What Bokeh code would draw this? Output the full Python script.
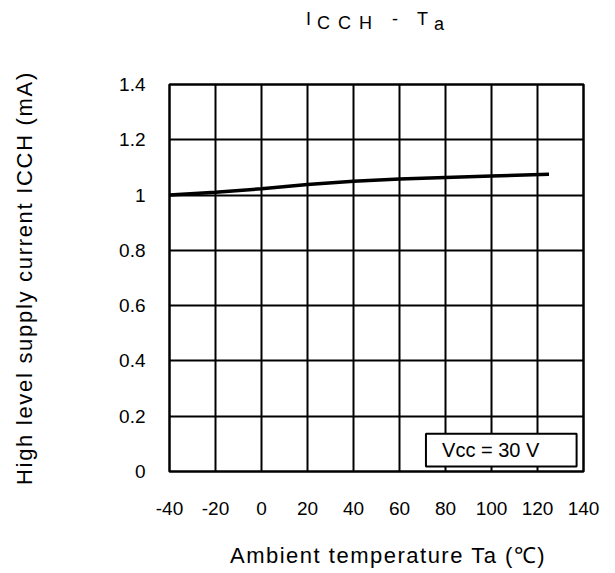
from bokeh.plotting import figure
from bokeh.models import Range1d, FixedTicker, Label, BoxAnnotation, Div
from bokeh.layouts import column, row
from bokeh.embed import file_html
from bokeh.resources import INLINE

# Data
temps = [-40, -20, 0, 20, 40, 60, 80, 100, 125]
icch = [1.0, 1.01, 1.023, 1.038, 1.05, 1.058, 1.064, 1.069, 1.075]

x_ticks = [-40, -20, 0, 20, 40, 60, 80, 100, 120, 140]
x_tick_labels = ["-40", "-20", "0", "20", "40", "60", "80", "100", "120", "140"]
y_ticks = [0, 0.2, 0.4, 0.6, 0.8, 1.0, 1.2, 1.4]
y_tick_labels = ["0", "0.2", "0.4", "0.6", "0.8", "1", "1.2", "1.4"]

x_title = "Ambient temperature Ta (\u2103)"
y_title = "High level supply current ICCH (mA)"

FONT = "Liberation Sans"
LEFT_W = 50
TITLE_H = 40
XT_H = 40
TOTAL_W = 612
TOTAL_H = 570
MAIN_W = TOTAL_W - LEFT_W

base = "font-family:'Liberation Sans'; color:black; white-space:nowrap;"

# --- chart title: I_CCH - T_a ---
def span(text, left, top, size=18, extra=""):
    return (f'<span style="position:absolute; left:{left}px; top:{top}px; '
            f'font-size:{size}px; line-height:18px; {extra}">{text}</span>')

title_html = (
    f'<div style="position:relative; width:{MAIN_W}px; height:{TITLE_H}px; {base}">'
    + span("I", 256, 10)
    + span("CCH", 267, 14, extra="letter-spacing:8px;")
    + span("-", 342, 10)
    + span("T", 367, 10)
    + span("a", 384, 15)
    + '</div>'
)
title_div = Div(text=title_html, width=MAIN_W, height=TITLE_H, margin=0)

# --- y axis title (rotated) ---
y_html = (
    f'<div style="position:relative; width:{LEFT_W}px; height:{TOTAL_H}px; {base}">'
    f'<div style="position:absolute; left:{25 - 215}px; top:{277.5 - 13}px; '
    f'width:430px; height:26px; line-height:26px; text-align:center; '
    f'font-size:22px; letter-spacing:1.7px; transform:rotate(-90deg); '
    f'transform-origin:50% 50%;">{y_title}</div></div>'
)
y_div = Div(text=y_html, width=LEFT_W, height=TOTAL_H, margin=0)

# --- x axis title ---
x_html = (
    f'<div style="position:relative; width:{MAIN_W}px; height:{XT_H}px; {base}">'
    f'<div style="position:absolute; left:180px; top:13px; height:26px; '
    f'line-height:26px; font-size:22px; letter-spacing:1.5px;">{x_title}</div></div>'
)
x_div = Div(text=x_html, width=MAIN_W, height=XT_H, margin=0)

# --- plot ---
p = figure(width=MAIN_W, height=TOTAL_H - TITLE_H - XT_H, output_backend="svg",
           toolbar_location=None,
           x_range=Range1d(-40, 140), y_range=Range1d(0, 1.4),
           min_border_left=169 - LEFT_W, min_border_right=29,
           min_border_top=84 - TITLE_H, min_border_bottom=59)

p.outline_line_color = "black"
p.outline_line_width = 2.5
p.background_fill_color = "white"

p.xaxis.ticker = FixedTicker(ticks=x_ticks)
p.yaxis.ticker = FixedTicker(ticks=y_ticks)
p.xaxis.major_label_overrides = dict(zip(x_ticks, x_tick_labels))
p.yaxis.major_label_overrides = dict(zip(y_ticks, y_tick_labels))

for ax in (p.xaxis, p.yaxis):
    ax.axis_line_color = None
    ax.major_tick_line_color = None
    ax.minor_tick_line_color = None
    ax.major_label_text_font = FONT
    ax.major_label_text_font_size = "19px"
    ax.major_label_text_color = "black"

p.xaxis.major_label_standoff = 24
p.yaxis.major_label_standoff = 18

p.xgrid.ticker = FixedTicker(ticks=x_ticks)
p.ygrid.ticker = FixedTicker(ticks=y_ticks)
for g in (p.xgrid, p.ygrid):
    g.grid_line_color = "black"
    g.grid_line_width = 2
    g.grid_line_alpha = 1

p.line(temps, icch, line_color="black", line_width=3.5)

# Condition box
p.add_layout(BoxAnnotation(left=71.5, right=137, bottom=0.018, top=0.137,
                           fill_color="white", fill_alpha=1,
                           line_color="black", line_width=2, line_alpha=1))
p.add_layout(Label(x=78.5, y=0.077, text="Vcc = 30 V", text_font=FONT,
                   text_font_size="20px", text_baseline="middle",
                   text_color="black"))

layout = row(y_div, column(title_div, p, x_div, spacing=0), spacing=0)
open("out.html", "w").write(file_html(layout, INLINE))
